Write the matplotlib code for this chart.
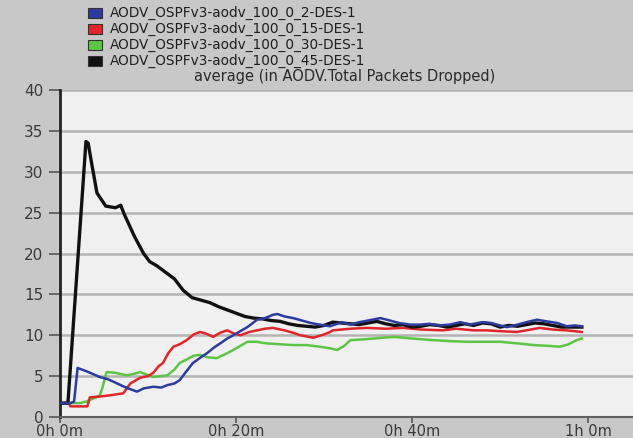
import matplotlib
matplotlib.use('Agg')
import matplotlib.pyplot as plt
from matplotlib.patches import Rectangle

# Time in minutes, value = average total packets dropped
t_blue = [0, 1.2, 1.6, 2.0, 3, 4.5, 5.5, 6.5, 7.5, 8.75, 9.5, 10.6, 11.5, 12.2, 13, 13.6, 14.3, 15.1,
          16, 16.7, 17.5, 18.2, 19, 19.7, 20.5, 21.3, 22.4, 23.3, 24.2, 24.7, 25.5, 26.5, 27.5, 28.5,
          29.5, 30.7, 32, 33, 34, 35, 36.4, 37.5, 38.5, 39.8, 41, 42, 43, 44.3, 45.5, 46.5, 48, 49,
          50, 50.8, 52, 53, 54.2, 55.3, 56.5, 57.6, 58.5, 59.3]
v_blue = [1.7, 1.7, 1.9, 6.0, 5.6, 4.9, 4.6, 4.1, 3.6, 3.1, 3.5, 3.7, 3.6, 3.9, 4.1, 4.5, 5.5, 6.6,
          7.3, 7.8, 8.5, 9.0, 9.6, 10.0, 10.5, 11.0, 11.9, 12.1, 12.5, 12.6, 12.3, 12.1, 11.8, 11.5,
          11.3, 11.1, 11.6, 11.3, 11.6, 11.8, 12.1, 11.8, 11.5, 11.3, 11.3, 11.4, 11.2, 11.3, 11.6, 11.3, 11.6, 11.5,
          11.2, 11.0, 11.3, 11.6, 11.9, 11.7, 11.5, 11.1, 11.2, 11.1]

t_red = [0, 1.0, 1.2, 3.1, 3.4, 4.5, 6, 7.2, 8, 9.1, 10, 10.6, 11.2, 11.7, 12.3, 12.9, 13.6, 14.4,
         15.2, 15.9, 16.6, 17.4, 18.2, 19, 19.8, 20.5, 21.5, 22.4, 23.3, 24.2, 25.5, 26.5, 27.3, 28.8,
         30, 30.7, 31, 33, 34.9, 37, 39, 41, 43.5, 45, 47, 48.5, 50, 51.9, 53, 54.5, 56, 57.5, 58.5, 59.3]
v_red = [1.7, 1.7, 1.3, 1.3, 2.4, 2.5, 2.7, 2.9, 4.1, 4.8, 5.0, 5.4, 6.2, 6.6, 7.8, 8.6, 8.9, 9.4,
         10.1, 10.4, 10.2, 9.8, 10.3, 10.6, 10.2, 10.0, 10.4, 10.6, 10.8, 10.9, 10.6, 10.3, 10.0, 9.7,
         10.1, 10.4, 10.6, 10.8, 10.9, 10.8, 10.9, 10.7, 10.6, 10.8, 10.6, 10.6, 10.5, 10.4, 10.6, 10.9, 10.7, 10.6, 10.5, 10.4]

t_green = [0, 2.3, 3, 4.5, 4.8, 5.3, 6.3, 7.6, 8.5, 9.1, 9.8, 10.6, 11.4, 12.2, 13, 13.6, 14.5, 15.2,
           15.9, 16.8, 17.8, 18.8, 19.7, 20.5, 21.3, 22.3, 23.5, 25, 26.5, 28, 29.5, 30.7, 31.5, 32.3,
           33, 34.5, 36.7, 38, 40, 42.4, 44, 46.2, 48, 50, 52, 53.8, 55.5, 56.8, 57.8, 58.7, 59.3]
v_green = [1.7, 1.7, 1.9, 2.6, 3.5, 5.5, 5.4, 5.1, 5.3, 5.5, 5.2, 4.9, 5.0, 5.1, 5.8, 6.6, 7.1, 7.5,
           7.6, 7.3, 7.2, 7.7, 8.2, 8.7, 9.2, 9.2, 9.0, 8.9, 8.8, 8.8, 8.6, 8.4, 8.2, 8.7,
           9.4, 9.5, 9.7, 9.8, 9.6, 9.4, 9.3, 9.2, 9.2, 9.2, 9.0, 8.8, 8.7, 8.6, 8.9, 9.4, 9.6]

t_black = [0, 0.9, 2.95, 3.2, 3.6, 4.2, 5.2, 6.3, 6.9, 7.3, 8.5, 9.5, 10.2, 11, 12, 13, 14, 15, 16,
           17, 18, 19, 20, 21, 22, 23, 24, 25, 26, 27, 28, 29, 30, 31, 32, 33, 34, 35, 36, 37, 38,
           39, 40, 41, 42, 43, 44, 45, 46, 47, 48, 49, 50, 51, 52, 53, 54, 55, 56, 57, 58, 59.3]
v_black = [1.7, 1.7, 33.7, 33.5, 31.0, 27.4, 25.8, 25.6, 25.9, 24.8, 22.0, 20.0, 19.0, 18.5, 17.7, 16.9, 15.5, 14.6, 14.3,
           14.0, 13.5, 13.1, 12.7, 12.3, 12.1, 12.0, 11.8, 11.7, 11.4, 11.2, 11.1, 11.0, 11.2, 11.6, 11.5, 11.4, 11.3, 11.5, 11.7, 11.4, 11.2,
           11.3, 11.0, 11.1, 11.3, 11.2, 11.0, 11.2, 11.4, 11.2, 11.5, 11.4, 11.0, 11.2, 11.1, 11.3, 11.5, 11.4, 11.2, 11.0, 11.0, 11.0]

labels = ['AODV_OSPFv3-aodv_100_0_2-DES-1',
          'AODV_OSPFv3-aodv_100_0_15-DES-1',
          'AODV_OSPFv3-aodv_100_0_30-DES-1',
          'AODV_OSPFv3-aodv_100_0_45-DES-1']
colors = ['#2b3c9e', '#e0262a', '#5cc544', '#111111']
yticks = [0, 5, 10, 15, 20, 25, 30, 35, 40]
xticks = [0, 20, 40, 60]
xticklabels = ['0h 0m', '0h 20m', '0h 40m', '1h 0m']
title = 'average (in AODV.Total Packets Dropped)'

W, H = 633, 438
fig = plt.figure(figsize=(W / 100, H / 100), dpi=100)
fig.patch.set_facecolor('#c8c8c8')

ax = fig.add_axes([60 / W, (H - 417) / H, (W - 60) / W, (417 - 90) / H])
ax.set_facecolor('#f0f0f0')

for y in yticks[1:]:
    ax.axhline(y, color='#b4b4b4', lw=1.8, zorder=1)

ax.plot(t_green, v_green, color=colors[2], lw=1.8, zorder=3)
ax.plot(t_red, v_red, color=colors[1], lw=1.8, zorder=3)
ax.plot(t_black, v_black, color=colors[3], lw=2.4, zorder=4)
ax.plot(t_blue, v_blue, color=colors[0], lw=1.8, zorder=5)

ax.set_xlim(0, (W - 60) / 8.8)
ax.set_ylim(0, 40)
ax.set_yticks(yticks)
ax.set_xticks(xticks)
ax.set_xticklabels(xticklabels)
ax.tick_params(axis='y', length=8, width=1.2, color='#555555', labelsize=11,
               labelcolor='#3a3a3a', pad=4, direction='out')
ax.tick_params(axis='x', length=4, width=1.2, color='#555555', labelsize=10.5,
               labelcolor='#3a3a3a', pad=1, direction='out')
for s in ['top', 'right']:
    ax.spines[s].set_visible(False)
ax.spines['left'].set_color('#222222')
ax.spines['left'].set_linewidth(2)
ax.spines['bottom'].set_color('#606060')
ax.spines['bottom'].set_linewidth(1.5)

# legend block above the plot
for i, (lab, c) in enumerate(zip(labels, colors)):
    yc = 13 + 16 * i
    fig.patches.append(Rectangle((88 / W, 1 - (yc + 5) / H), 14 / W, 10 / H,
                                 transform=fig.transFigure, facecolor=c,
                                 edgecolor='#333333', lw=0.8))
    fig.text(110 / W, 1 - yc / H, lab, ha='left', va='center', fontsize=9.8,
             color='#1e1e1e')
fig.text(345 / W, 1 - 77 / H, title, ha='center', va='center', fontsize=10.5,
         color='#2a2a2a')

fig.savefig('out.png', dpi=100, facecolor=fig.get_facecolor())
